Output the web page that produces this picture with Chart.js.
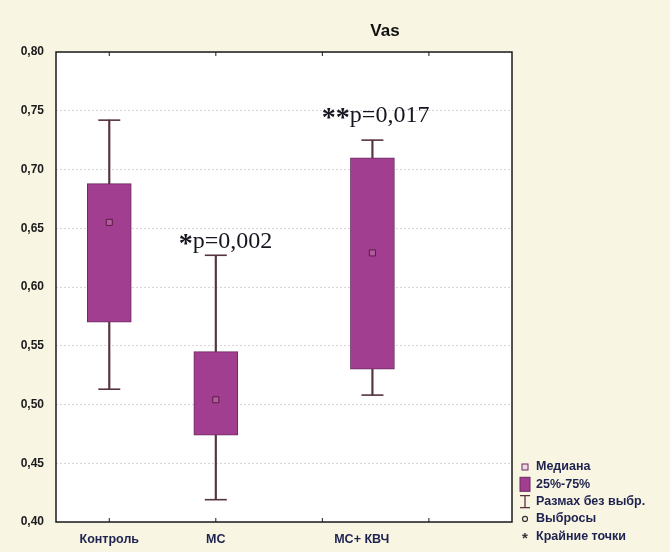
<!DOCTYPE html>
<html lang="ru">
<head>
  <meta charset="UTF-8" />
  <title>Vas</title>
  <script src="https://cdn.jsdelivr.net/npm/chart.js"></script>
  <style>
    html, body {
      margin: 0;
      padding: 0;
      background: #f8f5e2;
      overflow: hidden;
    }
    .chart-container {
      position: relative;
      width: 670px;
      height: 552px;
    }
  </style>
</head>
<body>
  <div class="chart-container">
    <canvas id="boxChart" width="670" height="552"></canvas>
  </div>

  <script>
    // groups and where they sit on the x scale
    const categories = ["Контроль", "МС", "МС+ КВЧ"];
    const boxPos = [1, 2, 3.47];
    const labelPos = [1, 2, 3.37];

    // box plot values
    const whiskerLow = [0.513, 0.419, 0.508];
    const q1 = [0.570, 0.474, 0.530];
    const median = [0.655, 0.504, 0.629];
    const q3 = [0.688, 0.545, 0.710];
    const whiskerHigh = [0.742, 0.627, 0.725];

    // significance notes
    const noteStars = ["*", "**"];
    const noteText = ["p=0,002", "p=0,017"];
    const noteX = [2.09, 3.5];
    const noteY = [0.641, 0.748];

    const legendLabels = ["Медиана", "25%-75%", "Размах без выбр.", "Выбросы", "Крайние точки"];

    const boxColor = "#a23e90";
    const boxBorder = "#6b2a60";
    const whiskerColor = "#55333f";
    const textColor = "#1d2250";

    // frame, inner ticks, category labels, notes, title and legend
    const decorations = {
      id: "decorations",
      beforeDraw(chart) {
        const { ctx, chartArea: a } = chart;
        ctx.save();
        ctx.fillStyle = "#ffffff";
        ctx.fillRect(a.left, a.top, a.right - a.left, a.bottom - a.top);
        ctx.restore();
      },
      afterDraw(chart) {
        const { ctx, chartArea: a, scales } = chart;
        const x = scales.x, y = scales.y;
        ctx.save();

        // frame
        ctx.strokeStyle = "#1a1a1a";
        ctx.lineWidth = 1.5;
        ctx.strokeRect(a.left, a.top, a.right - a.left, a.bottom - a.top);

        // inner ticks top & bottom
        ctx.lineWidth = 1;
        [1, 2, 3, 4].forEach(v => {
          const px = x.getPixelForValue(v);
          ctx.beginPath();
          ctx.moveTo(px, a.bottom);
          ctx.lineTo(px, a.bottom - 4);
          ctx.moveTo(px, a.top);
          ctx.lineTo(px, a.top + 4);
          ctx.stroke();
        });

        // category labels
        ctx.fillStyle = textColor;
        ctx.font = "bold 12.5px 'Liberation Sans', Arial, sans-serif";
        ctx.textAlign = "center";
        ctx.textBaseline = "middle";
        categories.forEach((c, i) => {
          ctx.fillText(c, x.getPixelForValue(labelPos[i]), a.bottom + 18);
        });

        // p-value notes
        ctx.fillStyle = "#151520";
        ctx.textBaseline = "alphabetic";
        noteText.forEach((t, i) => {
          ctx.font = "bold 28px 'Liberation Serif', 'Times New Roman', serif";
          const sw = ctx.measureText(noteStars[i]).width;
          ctx.font = "24px 'Liberation Serif', 'Times New Roman', serif";
          const tw = ctx.measureText(t).width;
          const cx = x.getPixelForValue(noteX[i]);
          const cy = y.getPixelForValue(noteY[i]) + 9;
          const left = cx - (sw + tw) / 2;
          ctx.textAlign = "left";
          ctx.font = "bold 28px 'Liberation Serif', 'Times New Roman', serif";
          ctx.fillText(noteStars[i], left, cy + 4);
          ctx.font = "24px 'Liberation Serif', 'Times New Roman', serif";
          ctx.fillText(t, left + sw, cy);
        });

        // title
        ctx.fillStyle = "#111";
        ctx.font = "bold 17px 'Liberation Sans', Arial, sans-serif";
        ctx.textAlign = "center";
        ctx.textBaseline = "middle";
        ctx.fillText("Vas", 385, 31);

        // legend
        const lx = a.right + 13;
        const ly0 = 467;
        const step = 17.3;
        const legendFont = "bold 12.5px 'Liberation Sans', Arial, sans-serif";
        ctx.font = legendFont;
        ctx.textAlign = "left";
        legendLabels.forEach((label, i) => {
          const ly = ly0 + i * step;
          ctx.strokeStyle = boxBorder;
          ctx.lineWidth = 1;
          if (i === 0) {
            ctx.fillStyle = "#f0d8e8";
            ctx.fillRect(lx - 3, ly - 3, 6, 6);
            ctx.strokeRect(lx - 3, ly - 3, 6, 6);
          } else if (i === 1) {
            ctx.fillStyle = boxColor;
            ctx.fillRect(lx - 5, ly - 7, 10, 14);
            ctx.strokeRect(lx - 5, ly - 7, 10, 14);
          } else if (i === 2) {
            ctx.strokeStyle = whiskerColor;
            ctx.lineWidth = 1.3;
            ctx.beginPath();
            ctx.moveTo(lx - 5, ly - 6); ctx.lineTo(lx + 5, ly - 6);
            ctx.moveTo(lx, ly - 6); ctx.lineTo(lx, ly + 6);
            ctx.moveTo(lx - 5, ly + 6); ctx.lineTo(lx + 5, ly + 6);
            ctx.stroke();
          } else if (i === 3) {
            ctx.strokeStyle = "#333";
            ctx.lineWidth = 1.2;
            ctx.beginPath();
            ctx.arc(lx, ly, 2.5, 0, Math.PI * 2);
            ctx.stroke();
          } else {
            ctx.fillStyle = "#333";
            ctx.font = "bold 15px 'Liberation Sans', Arial, sans-serif";
            ctx.textAlign = "center";
            ctx.fillText("*", lx, ly + 3);
            ctx.font = legendFont;
            ctx.textAlign = "left";
          }
          ctx.fillStyle = textColor;
          ctx.fillText(label, lx + 11, ly);
        });

        ctx.restore();
      }
    };

    const ctx = document.getElementById("boxChart").getContext("2d");

    new Chart(ctx, {
      type: "bar",
      data: {
        datasets: [
          {
            label: "whiskers",
            data: boxPos.map((p, i) => ({ x: p, y: [whiskerLow[i], whiskerHigh[i]] })),
            backgroundColor: whiskerColor,
            barThickness: 1.5,
            grouped: false,
            order: 4
          },
          {
            label: "25%-75%",
            data: boxPos.map((p, i) => ({ x: p, y: [q1[i], q3[i]] })),
            backgroundColor: boxColor,
            borderColor: boxBorder,
            borderWidth: 1,
            borderSkipped: false,
            barThickness: 44,
            grouped: false,
            order: 3
          },
          {
            type: "line",
            label: "caps",
            data: boxPos.flatMap((p, i) => [{ x: p, y: whiskerLow[i] }, { x: p, y: whiskerHigh[i] }]),
            showLine: false,
            pointStyle: "line",
            pointRadius: 11,
            pointBorderColor: whiskerColor,
            pointBorderWidth: 1.6,
            order: 2
          },
          {
            type: "line",
            label: "Медиана",
            data: boxPos.map((p, i) => ({ x: p, y: median[i] })),
            showLine: false,
            pointStyle: "rect",
            pointRadius: 4.3,
            pointBackgroundColor: "#b25aa2",
            pointBorderColor: "#5c1c3c",
            pointBorderWidth: 1,
            order: 1
          }
        ]
      },
      options: {
        responsive: false,
        animation: false,
        maintainAspectRatio: false,
        layout: { padding: { top: 52, right: 158, bottom: 0, left: 0 } },
        plugins: {
          legend: { display: false },
          title: { display: false },
          tooltip: { enabled: false }
        },
        scales: {
          x: {
            type: "linear",
            min: 0.5,
            max: 4.78,
            offset: false,
            ticks: { display: false },
            grid: { display: false, offset: false },
            border: { display: false },
            afterFit(scale) { scale.height = 30; }
          },
          y: {
            min: 0.4,
            max: 0.8,
            ticks: {
              stepSize: 0.05,
              padding: 12,
              color: "#1a1a1a",
              font: { family: "'Liberation Sans', Arial, sans-serif", size: 12, weight: "bold" },
              callback: v => v.toFixed(2).replace(".", ",")
            },
            grid: { color: "#d6d6d6", drawTicks: false },
            border: { display: false, dash: [2, 2] },
            afterFit(scale) { scale.width = 56; }
          }
        }
      },
      plugins: [decorations]
    });
  </script>
</body>
</html>
